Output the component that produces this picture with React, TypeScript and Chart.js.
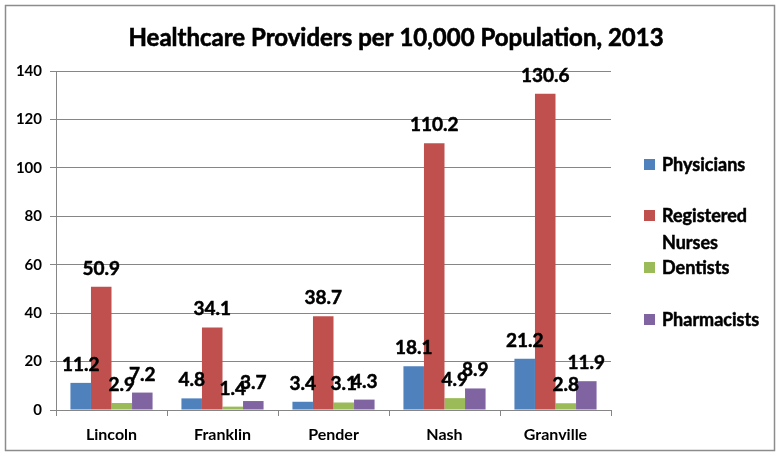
import React, { useEffect, useRef } from "react";
import { Chart, registerables } from "chart.js";

Chart.register(...registerables);

const titleText = "Healthcare Providers per 10,000 Population, 2013";
const categories = ["Lincoln", "Franklin", "Pender", "Nash", "Granville"];
const physicians = [11.2, 4.8, 3.4, 18.1, 21.2];
const registeredNurses = [50.9, 34.1, 38.7, 110.2, 130.6];
const dentists = [2.9, 1.4, 3.1, 4.9, 2.8];
const pharmacists = [7.2, 3.7, 4.3, 8.9, 11.9];
const seriesNames = ["Physicians", ["Registered", "Nurses"], "Dentists", "Pharmacists"];
const seriesColors = ["#4F81BD", "#C0504D", "#9BBB59", "#8064A2"];

const FONT = "Lato, 'Open Sans', sans-serif";

function boldText(ctx: any, text: string, x: number, y: number) {
  ctx.fillText(text, x, y);
  ctx.strokeText(text, x, y);
}

const decorPlugin = {
  id: "decor",
  beforeDraw(chart: any) {
    const ctx = chart.ctx;
    ctx.save();
    ctx.fillStyle = "#ffffff";
    ctx.fillRect(0, 0, chart.width, chart.height);
    ctx.strokeStyle = "#8c8c8c";
    ctx.lineWidth = 1.5;
    ctx.strokeRect(5.5, 5.5, chart.width - 11, chart.height - 11);
    ctx.fillStyle = "#000";
    ctx.strokeStyle = "#000";
    ctx.lineWidth = 0.6;
    ctx.font = `bold 24px ${FONT}`;
    ctx.textAlign = "center";
    ctx.textBaseline = "middle";
    boldText(ctx, titleText, 396, 38);
    ctx.restore();
  },
  afterDatasetsDraw(chart: any) {
    const ctx = chart.ctx;
    ctx.save();
    ctx.fillStyle = "#000";
    ctx.strokeStyle = "#000";
    ctx.lineWidth = 0.5;
    ctx.font = `bold 19px ${FONT}`;
    ctx.textAlign = "center";
    ctx.textBaseline = "alphabetic";
    chart.data.datasets.forEach((ds: any, i: number) => {
      const meta = chart.getDatasetMeta(i);
      meta.data.forEach((bar: any, j: number) => {
        boldText(ctx, String(ds.data[j]), bar.x, bar.y - 12);
      });
    });
    // legend
    const legendYs = [165, 216, 268, 320];
    chart.data.datasets.forEach((ds: any, i: number) => {
      const y = legendYs[i];
      ctx.fillStyle = ds.backgroundColor;
      ctx.fillRect(644, y - 6, 11, 11);
      ctx.fillStyle = "#000";
      ctx.font = `bold 18px ${FONT}`;
      ctx.textAlign = "left";
      ctx.textBaseline = "middle";
      const lines = Array.isArray(ds.label) ? ds.label : [ds.label];
      lines.forEach((ln: string, k: number) => {
        boldText(ctx, ln, 662, y + k * 27);
      });
    });
    ctx.restore();
  },
};

export default function App() {
  const ref = useRef<HTMLCanvasElement>(null);
  useEffect(() => {
    if (!ref.current) return;
    const series = [physicians, registeredNurses, dentists, pharmacists];
    const chart = new Chart(ref.current, {
      type: "bar",
      data: {
        labels: categories,
        datasets: series.map((d, i) => ({
          label: seriesNames[i] as any,
          data: d,
          backgroundColor: seriesColors[i],
          borderWidth: 0,
          barPercentage: 1,
          categoryPercentage: 0.74,
        })),
      },
      options: {
        animation: false,
        responsive: false,
        layout: { padding: { left: 0, right: 169, top: 71, bottom: 0 } },
        plugins: {
          legend: { display: false },
          title: { display: false },
          tooltip: { enabled: false },
        },
        scales: {
          x: {
            grid: {
              offset: true,
              drawOnChartArea: false,
              tickLength: 6,
              color: "#868686",
            },
            border: { color: "#868686" },
            ticks: {
              color: "#000",
              font: { family: FONT, size: 16, weight: "bold" },
              padding: 9,
            },
            afterFit(scale: any) {
              scale.height = 46;
            },
          },
          y: {
            min: 0,
            max: 140,
            ticks: {
              stepSize: 20,
              color: "#000",
              font: { family: FONT, size: 15, weight: "bold" },
              padding: 8,
            },
            grid: { color: "#868686", tickLength: 6 },
            border: { color: "#868686" },
            afterFit(scale: any) {
              scale.width = 56;
            },
          },
        },
      },
      plugins: [decorPlugin],
    });
    return () => chart.destroy();
  }, []);
  return (
    <div style={{ position: "fixed", left: 0, top: 0, width: 780, height: 456 }}>
      <canvas ref={ref} width={780} height={456} />
    </div>
  );
}
